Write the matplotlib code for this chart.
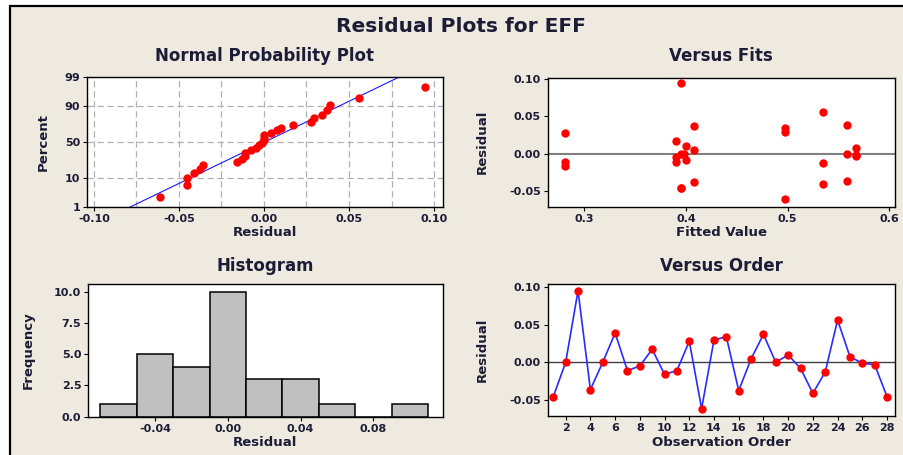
from statistics import NormalDist

import numpy as np
import matplotlib
matplotlib.use("Agg")
import matplotlib.pyplot as plt
from matplotlib.patches import Rectangle
from matplotlib.ticker import MultipleLocator, NullLocator

obs_order = list(range(1, 29))
residuals = [-0.0454, 0.0, 0.0947, -0.0360, 0.0, 0.0388, -0.0110, -0.0048,
             0.0172, -0.0159, -0.0110, 0.0278, -0.0612, 0.0295, 0.0339, -0.0374,
             0.0044, 0.0370, 0.0, 0.0098, -0.0079, -0.0410, -0.0128, 0.0560,
             0.0075, -0.0013, -0.0030, -0.0454]
fitted = [0.395, 0.395, 0.395, 0.558, 0.558, 0.558, 0.3905, 0.3905,
          0.3906, 0.2813, 0.2813, 0.2813, 0.497, 0.497, 0.497, 0.4076,
          0.4076, 0.4076, 0.398, 0.400, 0.400, 0.5344, 0.5344, 0.5344,
          0.567, 0.567, 0.567, 0.395]

npp_xticks = [-0.10, -0.05, 0.00, 0.05, 0.10]
npp_yticks = [1, 10, 50, 90, 99]
fit_xticks = [0.3, 0.4, 0.5, 0.6]
res_yticks = [-0.05, 0.00, 0.05, 0.10]
hist_edges = np.linspace(-0.07, 0.11, 10)
hist_xticks = [-0.04, 0.00, 0.04, 0.08]
hist_yticks = [0.0, 2.5, 5.0, 7.5, 10.0]
order_xticks = list(range(2, 29, 2))

plt.rcParams["axes.unicode_minus"] = False
plt.rcParams["font.family"] = "DejaVu Sans"

W, H = 904, 455
BG = "#EEEAE0"
TXT = "#1c1c36"
fig = plt.figure(figsize=(W / 100, H / 100), dpi=100, facecolor="white")
fig.patches.append(Rectangle((10 / W, -0.1), 1.2, 1.1 - 6 / H,
                             transform=fig.transFigure, facecolor=BG,
                             edgecolor="black", lw=1.6, zorder=-10))


def px_axes(l, t, r, b):
    return fig.add_axes([l / W, 1 - b / H, (r - l) / W, (b - t) / H])


def ftext(x, y, s, **kw):
    fig.text(x / W, 1 - y / H, s, ha="center", va="center", color=TXT, **kw)


def style(ax):
    ax.set_facecolor("white")
    for sp in ax.spines.values():
        sp.set_color("black")
        sp.set_linewidth(1.0)
    ax.tick_params(direction="out", length=3, width=0.8, labelsize=8,
                   colors="black", labelcolor=TXT, pad=2)
    for lab in ax.get_xticklabels() + ax.get_yticklabels():
        lab.set_fontweight("bold")


ftext(461, 26.5, "Residual Plots for EFF", fontsize=14.5, fontweight="bold")

# ---- normal probability plot
_nd = NormalDist()


def pct_to_z(p):
    p = np.clip(np.asarray(p, float), 1e-4, 100 - 1e-4)
    return np.vectorize(lambda v: _nd.inv_cdf(v / 100), otypes=[float])(p)


def z_to_pct(z):
    return np.vectorize(lambda v: _nd.cdf(v) * 100, otypes=[float])(np.asarray(z, float))


ax1 = px_axes(87.3, 76.7, 442.7, 206.7)
ax1.set_yscale("function", functions=(pct_to_z, z_to_pct))
r = np.sort(np.array(residuals))
n = len(r)
pct = (np.arange(1, n + 1) - 0.3) / (n + 0.4) * 100
mu, sd = r.mean(), r.std(ddof=1)
line_p = np.linspace(0.5, 99.5, 200)
line_x = mu + sd * pct_to_z(line_p)
ax1.plot(line_x, line_p, color="#1a1aff", lw=0.8, zorder=2)
ax1.plot(r, pct, "o", color="red", ms=5, zorder=3)
ax1.set_xlim(-0.1039, 0.1051)
ax1.set_ylim(1, 99)
ax1.set_xticks(npp_xticks)
ax1.set_xticklabels([f"{v:.2f}" for v in npp_xticks])
ax1.set_yticks(npp_yticks)
ax1.set_yticklabels([str(v) for v in npp_yticks])
ax1.yaxis.set_minor_locator(NullLocator())
ax1.xaxis.set_minor_locator(MultipleLocator(0.025))
style(ax1)
ax1.tick_params(which="minor", length=0)
ax1.grid(True, which="both", axis="x", color="#b0b0b0", ls=(0, (5, 3)), lw=0.9)
ax1.grid(True, which="major", axis="y", color="#b0b0b0", ls=(0, (5, 3)), lw=0.9)
ax1.set_axisbelow(True)
ftext(265, 56, "Normal Probability Plot", fontsize=12, fontweight="bold")
ftext(265, 233, "Residual", fontsize=9.5, fontweight="bold")
ftext(43, 142, "Percent", fontsize=9.5, fontweight="bold", rotation=90)

# ---- versus fits
ax2 = px_axes(547.7, 77.7, 895.3, 206.7)
ax2.axhline(0, color="#808080", lw=1.5, zorder=1)
ax2.plot(fitted, residuals, "o", color="red", ms=5, zorder=3)
ax2.set_xlim(0.264, 0.606)
ax2.set_ylim(-0.0710, 0.1017)
ax2.set_xticks(fit_xticks)
ax2.set_xticklabels([f"{v:.1f}" for v in fit_xticks])
ax2.set_yticks(res_yticks)
ax2.set_yticklabels([f"{v:.2f}" for v in res_yticks])
style(ax2)
ftext(721, 56, "Versus Fits", fontsize=12, fontweight="bold")
ftext(721, 233, "Fitted Value", fontsize=9.5, fontweight="bold")
ftext(482, 142, "Residual", fontsize=9.5, fontweight="bold", rotation=90)

# ---- histogram
ax3 = px_axes(88.3, 284.3, 442.7, 416.7)
ax3.hist(residuals, bins=hist_edges, color="#c0c0c0", edgecolor="black", lw=1.1)
ax3.set_xlim(-0.0766, 0.1181)
ax3.set_ylim(0, 10.6)
ax3.set_xticks(hist_xticks)
ax3.set_xticklabels([f"{v:.2f}" for v in hist_xticks])
ax3.set_yticks(hist_yticks)
ax3.set_yticklabels([f"{v:.1f}" for v in hist_yticks])
style(ax3)
ftext(265, 266, "Histogram", fontsize=12, fontweight="bold")
ftext(265, 442, "Residual", fontsize=9.5, fontweight="bold")
ftext(28, 350, "Frequency", fontsize=9.5, fontweight="bold", rotation=90)

# ---- versus order
ax4 = px_axes(548, 284.3, 895.3, 416)
ax4.axhline(0, color="#404040", lw=1.0, zorder=1)
ax4.plot(obs_order, residuals, "-", color="#2a2aff", lw=1.2, zorder=2)
ax4.plot(obs_order, residuals, "o", color="red", ms=5, zorder=3)
ax4.set_xlim(0.57, 28.67)
ax4.set_ylim(-0.071, 0.1032)
ax4.set_xticks(order_xticks)
ax4.set_xticklabels([str(v) for v in order_xticks])
ax4.set_yticks(res_yticks)
ax4.set_yticklabels([f"{v:.2f}" for v in res_yticks])
style(ax4)
ftext(721, 266, "Versus Order", fontsize=12, fontweight="bold")
ftext(721, 442, "Observation Order", fontsize=9.5, fontweight="bold")
ftext(482, 350, "Residual", fontsize=9.5, fontweight="bold", rotation=90)

fig.savefig("out.png", dpi=100, facecolor=fig.get_facecolor())
